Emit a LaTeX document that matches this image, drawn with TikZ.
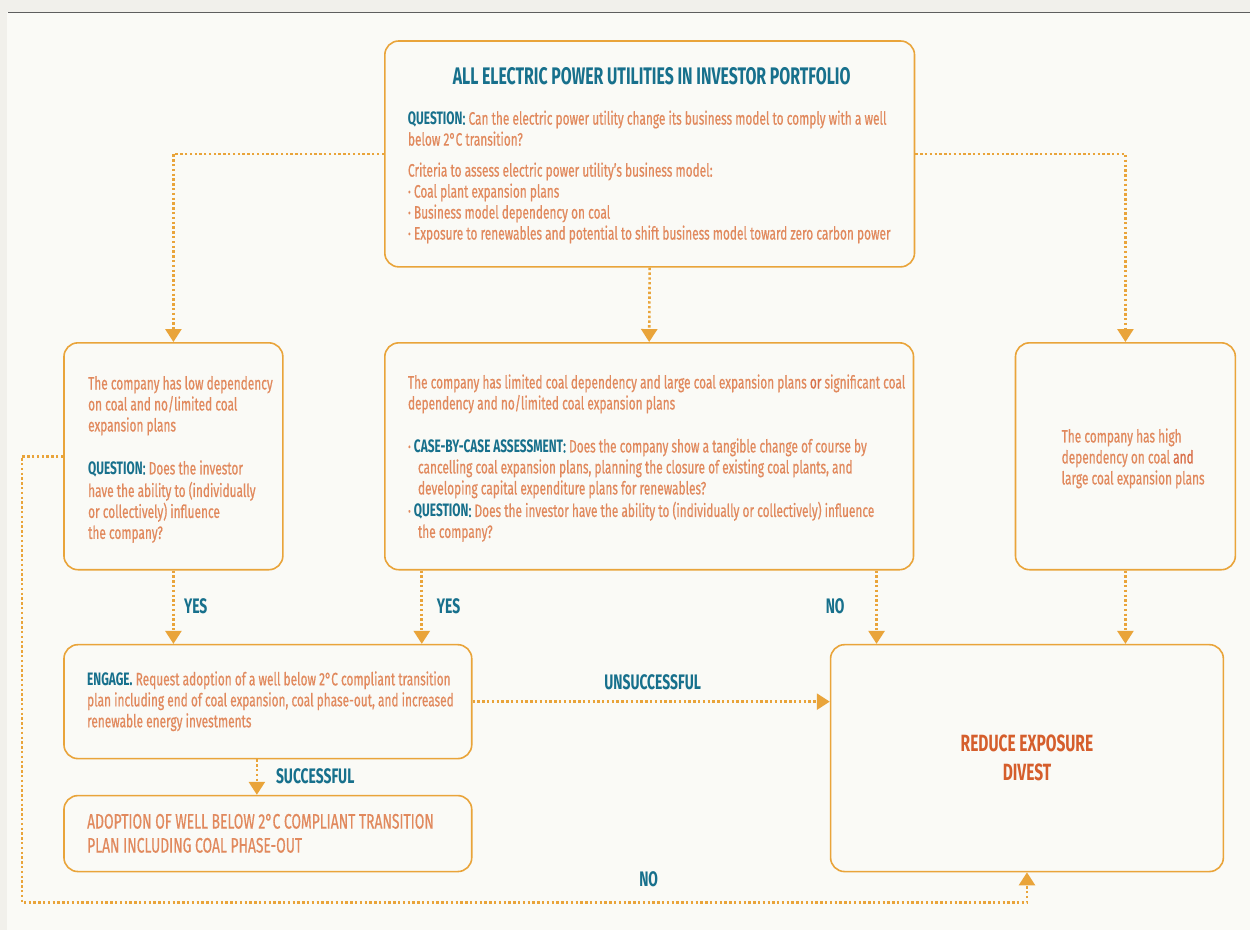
\documentclass[tikz,border=0pt]{standalone}
\usepackage{fontspec}
\setmainfont{Fira Sans}[FakeStretch=0.66, UprightFeatures={FakeBold=0.6}]
\usetikzlibrary{arrows.meta,calc}

\definecolor{pageout}{HTML}{F1F0EB}
\definecolor{pagein}{HTML}{FAFAF6}
\definecolor{rulegray}{HTML}{5E5E5E}
\definecolor{boxline}{HTML}{E9A43A}
\definecolor{bodytxt}{HTML}{E1895D}
\definecolor{accent}{HTML}{17708C}
\definecolor{divest}{HTML}{D55E2C}
\definecolor{joiner}{HTML}{D9704A}

\newcommand{\hd}[1]{\textcolor{accent}{\bfseries #1}}
\newcommand{\ind}{\hspace*{10pt}}

\begin{document}
\begin{tikzpicture}[x=1pt,y=-1pt,
  box/.style={draw=boxline, line width=1.6pt, rounded corners=14pt,
              inner sep=0pt, fill=pagein},
  flow/.style={draw=boxline, line width=2.6pt, dash pattern=on 2.4pt off 2.4pt,
               -{Triangle[width=16pt,length=13pt]}},
  txt/.style={anchor=north west, inner sep=0pt, align=left, text=bodytxt,
              font=\fontsize{18}{21}\selectfont},
  lbl/.style={inner sep=0pt, text=accent, font=\fontsize{21}{24}\selectfont\bfseries}]

% page background and top rule
\fill[pageout] (0,0) rectangle (1251,930);
\fill[pagein] (7,12.5) rectangle (1251,930);
\draw[rulegray, line width=1.3pt] (8,12.5) -- (1251,12.5);
\useasboundingbox (0,0) rectangle (1251,930);

% boxes
\node[box, minimum width=530pt, minimum height=226pt] (top)    at (650,154)     {};
\node[box, minimum width=219pt, minimum height=227pt] (left)   at (173.5,456.5) {};
\node[box, minimum width=529pt, minimum height=227pt] (mid)    at (649.5,456.5) {};
\node[box, minimum width=220pt, minimum height=227pt] (right)  at (1126,456.5)  {};
\node[box, minimum width=408pt, minimum height=114pt] (engage) at (268,702)     {};
\node[box, minimum width=408pt, minimum height=76pt]  (adopt)  at (268,834)     {};
\node[box, minimum width=393pt, minimum height=227pt] (reduce) at (1027.5,758.5){};

% texts of the top box
\node[anchor=center, inner sep=0pt, text=accent,
      font=\fontsize{24}{28}\selectfont\bfseries] (toptitle) at (652,76)
  {ALL ELECTRIC POWER UTILITIES IN INVESTOR PORTFOLIO};
\node[txt] (topq) at (408,109.8)
  {\strut\hd{QUESTION}\textcolor{accent}{:} Can the electric power utility change its business model to comply with a well\\
   below 2°C transition?};
\node[txt] (topcrit) at (408,161.8)
  {\strut Criteria to assess electric power utility’s business model:\\
   · Coal plant expansion plans\\
   · Business model dependency on coal\\
   · Exposure to renewables and potential to shift business model toward zero carbon power};

% texts of the left box
\node[txt] (lefta) at (88,374.8)
  {\strut The company has low dependency\\
   on coal and no/limited coal\\
   expansion plans};
\node[txt] (leftq) at (88,459.8)
  {\strut\hd{QUESTION}\textcolor{accent}{:} Does the investor\\
   have the ability to (individually\\
   or collectively) influence\\
   the company?};

% texts of the middle box
\node[txt] (mida) at (408,373.8)
  {\strut The company has limited coal dependency and large coal expansion plans \textcolor{joiner}{or} significant coal\\
   dependency and no/limited coal expansion plans};
\node[txt] (midb) at (408,437.8)
  {\strut· \hd{CASE-BY-CASE ASSESSMENT}\textcolor{accent}{:} Does the company show a tangible change of course by\\
   \ind cancelling coal expansion plans, planning the closure of existing coal plants, and\\
   \ind developing capital expenditure plans for renewables?};
\node[txt] (midc) at (408,501.8)
  {\strut· \hd{QUESTION}\textcolor{accent}{:} Does the investor have the ability to (individually or collectively) influence\\
   \ind the company?};

% text of the right box
\node[txt] (righta) at (1062,427.8)
  {\strut The company has high\\
   dependency on coal \textcolor{joiner}{and}\\
   large coal expansion plans};

% text of the engage box
\node[txt] (engagea) at (87,670.8)
  {\strut\hd{ENGAGE.} Request adoption of a well below 2°C compliant transition\\
   plan including end of coal expansion, coal phase-out, and increased\\
   renewable energy investments};

% text of the adoption box
\node[txt, font=\fontsize{21}{24}\selectfont] (adopta) at (87,812)
  {\strut ADOPTION OF WELL BELOW 2°C COMPLIANT TRANSITION\\
   PLAN INCLUDING COAL PHASE-OUT};

% text of the divest box
\node[anchor=center, inner sep=0pt, align=center, text=divest,
      font=\fontsize{23.5}{29}\selectfont\bfseries] (reducea) at (1027.5,758.5)
  {REDUCE EXPOSURE\\DIVEST};

% connectors
\coordinate (m1) at ([xshift=-227.5pt]mid.south);
\coordinate (m2) at ([xshift=227.5pt]mid.south);
\coordinate (e1) at ([xshift=-11pt]engage.south);
\coordinate (loop) at (22,903);

\draw[flow] (top.west) -| (left.north);
\draw[flow] (top.east) -| (right.north);
\draw[flow] (top.south) -- (mid.north);
\draw[flow] (left.south) -- (left.south |- engage.north);
\draw[flow] (m1) -- (m1 |- engage.north);
\draw[flow] (m2) -- (m2 |- reduce.north);
\draw[flow] (right.south) -- (right.south |- reduce.north);
\draw[flow] (engage.east) -- (engage.east -| reduce.west);
\draw[flow] (e1) -- (e1 |- adopt.north);
\draw[flow] (left.west) -| (loop) -| (reduce.south);

% connector labels
\node[lbl, anchor=west] (yes1) at (184,607) {YES};
\node[lbl, anchor=west] (yes2) at (437,607) {YES};
\node[lbl, anchor=west] (no1) at (826,607) {NO};
\node[lbl] (unsucc) at (653,683) {UNSUCCESSFUL};
\node[lbl, anchor=west] (succ) at (276,777) {SUCCESSFUL};
\node[lbl] (no2) at (649,880) {NO};
\end{tikzpicture}
\end{document}
